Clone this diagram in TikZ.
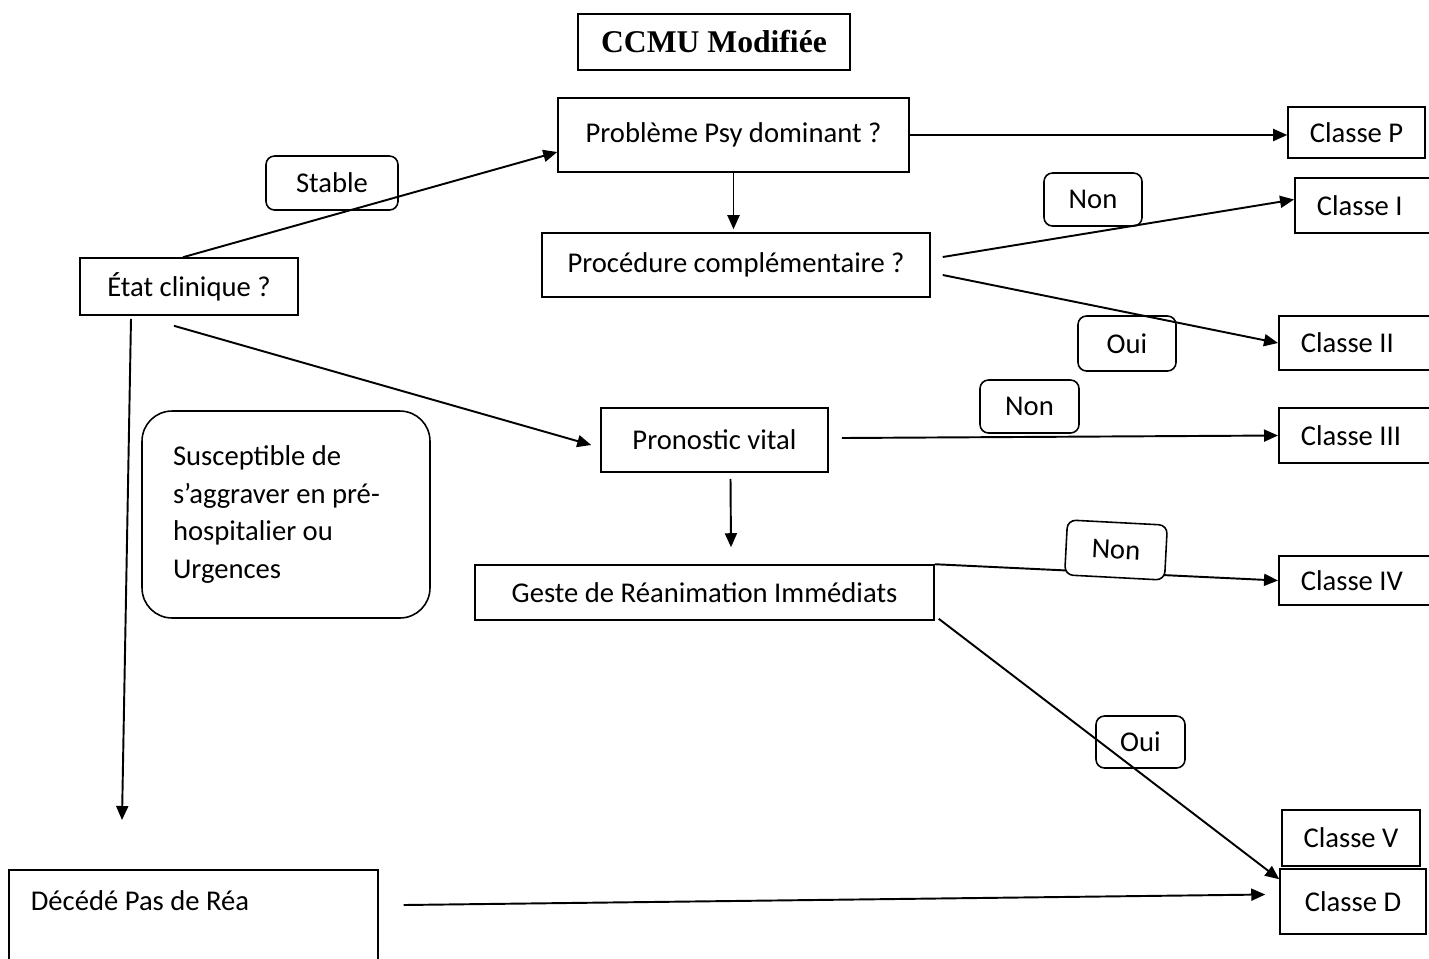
\documentclass[tikz,border=0pt]{standalone}
\usepackage{fontspec}
\setmainfont{Carlito}
\newfontfamily\titlefont{Liberation Serif}
\usetikzlibrary{arrows.meta,calc}

\begin{document}
\begin{tikzpicture}[
  x=0.02cm, y=-0.02cm,
  box/.style={draw, line width=0.9pt, inner sep=0pt, align=center, font=\fontsize{16.3}{21.5}\selectfont},
  cutbox/.style={box, anchor=west, align=flush left, text width=2.4cm, inner xsep=0.44cm, minimum width=3.28cm},
  tag/.style={box, rounded corners=0.17cm},
  arrow/.style={-{Triangle[length=2.8mm,width=2.4mm]}, line width=1.1pt}
]
  \useasboundingbox (0,0) rectangle (1429,958);
  \clip (0,0) rectangle (1429,958);

  % Title
  \node[box, font=\titlefont\bfseries\fontsize{18}{22}\selectfont, minimum width=5.44cm, minimum height=1.12cm] (title) at (714,42) {CCMU Modifiée};

  % Questions
  \node[box, minimum width=4.36cm, minimum height=1.14cm] (etat) at (189,286.5) {État clinique ?};
  \node[box, minimum width=7.02cm, minimum height=1.48cm] (psy) at (733.5,135) {Problème Psy dominant ?};
  \node[box, minimum width=7.76cm, minimum height=1.28cm] (proc) at (736,265) {Procédure complémentaire ?};
  \node[box, minimum width=4.54cm, minimum height=1.28cm] (pron) at (714.5,440) {Pronostic vital};
  \node[box, minimum width=9.18cm, minimum height=1.10cm] (geste) at (704.5,592.5) {Geste de Réanimation Immédiats};
  \node[box, anchor=north west, align=flush left, text width=6.5cm, inner xsep=0.44cm, minimum width=7.38cm, minimum height=2cm] (dcd) at (8,869) {Décédé Pas de Réa\\~};
  \node[box, rounded corners=0.6cm, align=flush left, text width=4.52cm, inner xsep=0.62cm, minimum width=5.76cm, minimum height=4.14cm] (susc) at (286,514.5) {Susceptible de\\s’aggraver en pré-\\hospitalier ou\\Urgences};

  % Classes
  \node[box, minimum width=2.74cm, minimum height=1.02cm] (classeP) at (1356.5,132.5) {Classe P};
  \node[cutbox, minimum height=1.10cm, inner xsep=0.42cm] (classeI) at (1294,205.5) {Classe I};
  \node[cutbox, minimum height=1.08cm] (classeII) at (1278,343) {Classe II};
  \node[cutbox, minimum height=1.10cm] (classeIII) at (1278,435.5) {Classe III};
  \node[cutbox, minimum height=0.98cm] (classeIV) at (1278,580.5) {Classe IV};
  \node[box, minimum width=2.76cm, minimum height=1.12cm] (classeV) at (1351,838) {Classe V};
  \node[box, minimum width=2.92cm, minimum height=1.30cm] (classeD) at (1353,901.5) {Classe D};

  \coordinate (down) at (122,820);

  % Arrows
  \draw[arrow] ($(etat.north)+(-6,0)$) -- ($(psy.west)+(0,17)$);
  \draw[arrow] (psy.east) -- (psy.east -| classeP.west);
  \draw[arrow] (psy.south) -- ($(psy.south |- proc.north)+(0,-3)$);
  \draw[arrow] ($(proc.east)+(12,-8)$) -- ($(classeI.west)+(0,-6)$);
  \draw[arrow] ($(proc.east)+(12,10)$) -- (classeII.west);
  \draw[arrow] ($(etat.south)+(-15,10)$) -- ($(pron.west)+(-9,5)$);
  \draw[arrow] ($(etat.south)+(-58,3)$) -- (down);
  \draw[arrow] ($(pron.east)+(13,-2)$) -- (classeIII.west);
  \draw[arrow] ($(pron.south)+(16,6)$) -- ($(geste.north)+(26.5,-17)$);
  \draw[arrow] (geste.north east) -- (classeIV.west);
  \draw[arrow] ($(geste.south east)+(4,-2)$) -- ($(classeD.north west)+(0,11)$);
  \draw[arrow] ($(dcd.north east)+(25,36)$) -- ($(classeD.west)+(-14,-7)$);

  % Answers
  \node[tag, minimum width=2.64cm, minimum height=1.08cm] (stable) at (332,183) {Stable};
  \node[tag, minimum width=1.96cm, minimum height=1.06cm] (non1) at (1093,199.5) {Non};
  \node[tag, minimum width=1.96cm, minimum height=1.10cm] (oui1) at (1127,343.5) {Oui};
  \node[tag, minimum width=1.98cm, minimum height=1.06cm] (non2) at (1029.5,406.5) {Non};
  \node[tag, fill=white, rotate=-3, minimum width=2.00cm, minimum height=1.10cm] (non3) at (1116,550) {Non};
  \node[tag, minimum width=1.78cm, minimum height=1.04cm] (oui2) at (1140.5,742) {Oui};
\end{tikzpicture}
\end{document}
